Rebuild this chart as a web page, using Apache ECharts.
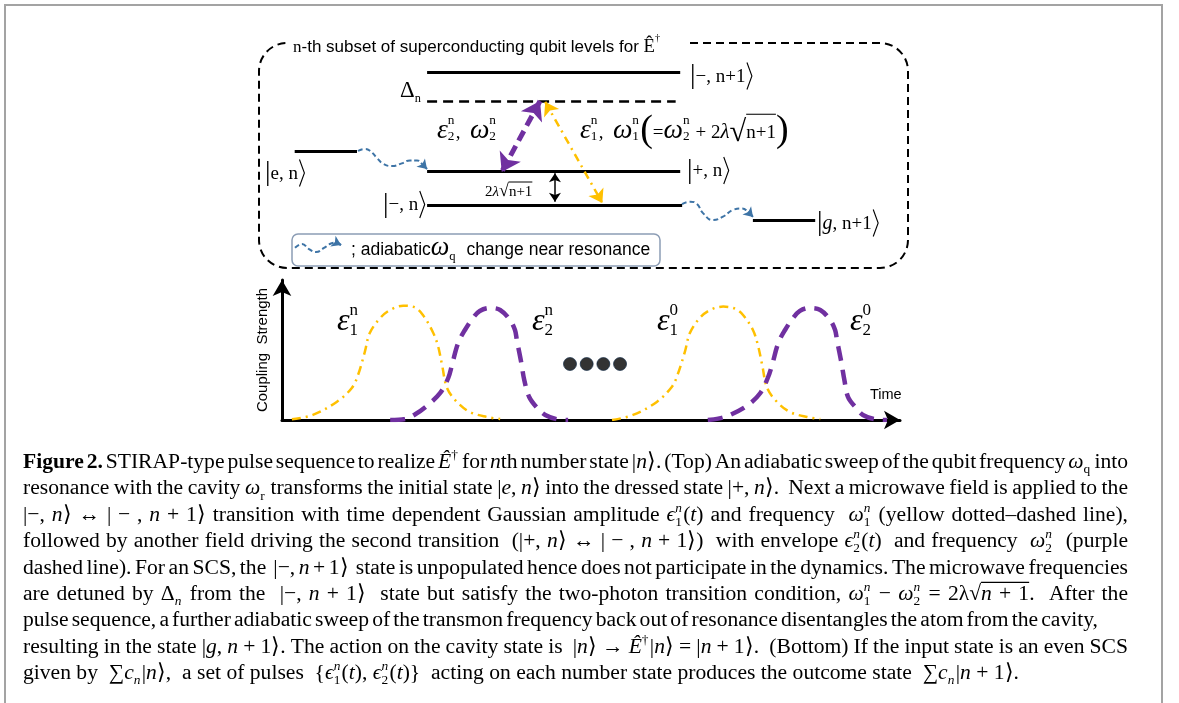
<!DOCTYPE html>
<html>
<head>
<meta charset="utf-8">
<title>STIRAP-type pulse sequence</title>
<script src="https://cdn.jsdelivr.net/npm/echarts@6/dist/echarts.min.js"></script>
<style>
html, body { margin: 0; padding: 0; background: #fff; }
#chart { width: 1179px; height: 703px; }
</style>
</head>
<body>
<div id="chart"></div>
<script>
// ---------- Pulse envelopes: [time, coupling strength] ----------
const pulseEps1N = [[1.6,0.005],[5.0,0.036],[8.9,0.131],[11.3,0.229],[12.3,0.321],[13.4,0.486],[14.2,0.621],[15.9,0.729],[17.5,0.786],[19.6,0.816],[21.5,0.804],[22.8,0.75],[24.4,0.629],[25.2,0.536],[25.9,0.393],[26.7,0.229],[28.3,0.129],[30.4,0.057],[33.2,0.021],[35.3,0.007]];
const pulseEps2N = [[17.5,0],[19.9,0.007],[21.5,0.039],[23.6,0.107],[25.6,0.193],[26.9,0.30],[27.5,0.393],[28.5,0.55],[29.6,0.643],[30.9,0.729],[32.0,0.779],[33.7,0.80],[35.3,0.786],[36.9,0.714],[37.7,0.643],[38.0,0.571],[38.7,0.414],[39.2,0.286],[40.0,0.164],[41.3,0.086],[42.6,0.036],[44.7,0.004],[46.3,0]];
const pulseEps1Zero = [[53.4,0],[56.8,0.036],[60.7,0.131],[63.1,0.238],[63.9,0.31],[65.2,0.488],[66.0,0.621],[67.6,0.729],[69.3,0.786],[71.4,0.81],[73.3,0.795],[74.6,0.75],[76.2,0.643],[77.0,0.536],[77.7,0.393],[78.5,0.229],[80.1,0.129],[82.2,0.057],[85.0,0.021],[87.1,0.007]];
const pulseEps2Zero = [[68.9,0],[70.6,0.01],[72.5,0.036],[75.4,0.107],[77.4,0.193],[78.6,0.30],[79.3,0.393],[80.3,0.55],[81.4,0.643],[82.7,0.729],[83.8,0.779],[85.3,0.80],[87.1,0.786],[88.7,0.714],[89.5,0.643],[89.8,0.571],[90.5,0.414],[91.0,0.286],[91.6,0.164],[92.9,0.086],[94.0,0.036],[96.1,0.004],[97.9,0]];
const ellipsisDots = [[46.6,0.4],[49.3,0.4],[52.0,0.4],[54.7,0.4]];

// ---------- Level scheme: position along the diagram, energy ----------
const levelStart  = [25.9, 25.9, 25.9, 5.5, 76.1];   // |-,n+1>, |+,n>, |-,n>, |e,n>, |g,n+1>
const levelEnd    = [64.9, 64.9, 65.2, 15.1, 85.7];
const levelEnergy = [87.2, 42.8, 28.0, 52.0, 21.3];
const detunedLevel = [25.9, 64.2, 73.9];              // start, end, energy
const drive2Arrow = [[43.3, 74.2], [37.4, 42.7]];     // eps2 / omega2 transition
const drive1Arrow = [[44.1, 73.8], [52.9, 28.9]];     // eps1 / omega1 transition
const splitArrow  = [[45.6, 42.1], [45.6, 29.5]];     // 2 lambda sqrt(n+1)
const sweepIn  = [[15.25,52.0],[16.33,52.9],[17.10,52.1],[18.18,48.9],[19.1,46.4],[20.5,45.3],[22.0,46.5],[23.27,47.8],[24.35,47.8],[25.27,45.8],[25.89,44.0]];
const sweepOut = [[65.18,28.4],[66.41,29.5],[67.49,28.4],[68.41,24.4],[69.95,21.3],[71.49,22.8],[73.04,25.8],[74.42,26.5],[75.35,25.0],[76.12,22.7]];
const sweepKey = [[5.55,9.0],[6.63,10.7],[7.70,8.4],[8.78,7.1],[10.02,8.9],[11.09,10.9],[11.86,11.3],[12.63,10.2]];

// ---------- Colours ----------
const YELLOW = '#FFC000';
const PURPLE = '#7030A0';
const SWEEP = '#3E74A6';

// ---------- Text layout helpers (baseline-aligned runs, scripts, overlines) ----------
const SERIF = '"Liberation Serif", "Times New Roman", serif';
const SANS = '"Liberation Sans", Arial, sans-serif';
const mctx = document.createElement('canvas').getContext('2d');
function fontOf(f, size) {
  return (f === 'i' ? 'italic ' : '') + (f === 'b' ? 'bold ' : '') + size + 'px ' + (f === 's' ? SANS : SERIF);
}
function textWidth(t, f, size) { mctx.font = fontOf(f, size); return mctx.measureText(t).width; }
const shiftCache = {};
function baseShift(f, size) {
  const k = f + size;
  if (k in shiftCache) return shiftCache[k];
  mctx.font = fontOf(f, size);
  mctx.textBaseline = 'alphabetic';
  const a = mctx.measureText('H').actualBoundingBoxAscent;
  mctx.textBaseline = 'middle';
  const m = mctx.measureText('H').actualBoundingBoxAscent;
  mctx.textBaseline = 'alphabetic';
  return (shiftCache[k] = a - m);
}
function run(t, f, size, x, yb, color) {
  return {
    type: 'text', silent: true, z: 10,
    style: {
      text: t, x: x, y: yb - baseShift(f, size) - size / 2,
      fontSize: size, fontFamily: f === 's' ? SANS : SERIF,
      fontStyle: f === 'i' ? 'italic' : 'normal',
      fontWeight: f === 'b' ? 'bold' : 'normal',
      lineHeight: size, fill: color || '#000'
    }
  };
}
function R(t, m) { return { k: 't', t: t, f: 'r', m: m || 1 }; }
function I(t, m) { return { k: 't', t: t, f: 'i', m: m || 1 }; }
function B(t) { return { k: 't', t: t, f: 'b', m: 1 }; }
function S(t, m) { return { k: 't', t: t, f: 's', m: m || 1 }; }
function SS(sub, sup, subF, supF) { return { k: 'ss', sub: sub, sup: sup, subF: subF || 'r', supF: supF || 'r' }; }
function OV(items) { return { k: 'ov', items: items }; }
function BIG(t, sc, dy) { return { k: 'big', t: t, sc: sc, dy: dy || 0 }; }
function ANG(up, dn, w) { return { k: 'ang', up: up, dn: dn, w: w }; }

function layoutLine(items, x0, yb, size, options) {
  const opt = Object.assign({ script: 0.62, supDy: -0.42, subDy: 0.24, ovDy: 0.82, target: null, color: '#000' }, options || {});
  function pass(extra, out) {
    let x = x0;
    function place(it) {
      if (it.k === 't') {
        const sz = size * it.m;
        it.t.split(/( )/).forEach(function (p) {
          if (!p) return;
          if (p === ' ') { x += textWidth(' ', it.f, sz) + extra; return; }
          if (out) out.push(run(p, it.f, sz, x, yb, opt.color));
          x += textWidth(p, it.f, sz);
        });
      } else if (it.k === 'big') {
        const sz = size * it.sc;
        if (out) out.push(run(it.t, 'r', sz, x, yb + it.dy * size, opt.color));
        x += textWidth(it.t, 'r', sz);
      } else if (it.k === 'ang') {
        const gap = size * 0.08, top = yb - it.up * size, bot = yb + it.dn * size, w = it.w * size;
        if (out) out.push({ type: 'polyline', silent: true, z: 10,
          shape: { points: [[x + gap, top], [x + gap + w, (top + bot) / 2], [x + gap, bot]] },
          style: { fill: 'none', stroke: opt.color, lineWidth: 1.1 } });
        x += w + 2 * gap;
      } else if (it.k === 'ss') {
        const s = size * opt.script;
        let w = 0;
        if (it.sup) { if (out) out.push(run(it.sup, it.supF, s, x, yb + opt.supDy * size, opt.color)); w = Math.max(w, textWidth(it.sup, it.supF, s)); }
        if (it.sub) { if (out) out.push(run(it.sub, it.subF, s, x, yb + opt.subDy * size, opt.color)); w = Math.max(w, textWidth(it.sub, it.subF, s)); }
        x += w + size * 0.06;
      } else if (it.k === 'ov') {
        const xs = x;
        it.items.forEach(place);
        if (out) out.push({ type: 'line', silent: true, z: 10,
          shape: { x1: xs, y1: yb - opt.ovDy * size, x2: x, y2: yb - opt.ovDy * size },
          style: { stroke: opt.color, lineWidth: Math.max(1, size * 0.055) } });
      }
    }
    items.forEach(place);
    return x - x0;
  }
  function spaces(list) {
    let n = 0;
    list.forEach(function (it) {
      if (it.k === 't') n += (it.t.match(/ /g) || []).length;
      else if (it.k === 'ov') n += spaces(it.items);
    });
    return n;
  }
  const natural = pass(0, null);
  const ns = spaces(items);
  const extra = (opt.target && ns) ? (opt.target - natural) / ns : 0;
  const out = [];
  pass(extra, out);
  return out;
}
function ket(items) { return [BIG('|', 1.45, 0.1)].concat(items, [ANG(1.0, 0.42, 0.26)]); }

// ---------- Caption ----------
const captionLines = [
  [B('Figure 2.'), R(' STIRAP-type pulse sequence to realize '), I('\u00CA'), SS(null, '\u2020'), R(' for '), I('n'), R('th number state |'), I('n'), R('\u27E9. (Top) An adiabatic sweep of the qubit frequency '), I('\u03C9'), SS('q', null), R(' into')],
  [R('resonance with the cavity '), I('\u03C9'), SS('r', null), R(' transforms the initial state |'), I('e'), R(', '), I('n'), R('\u27E9 into the dressed state |+, '), I('n'), R('\u27E9.  Next a microwave field is applied to the')],
  [R('|\u2212, '), I('n'), R('\u27E9 \u2194 | \u2212 , '), I('n'), R(' + 1\u27E9 transition with time dependent Gaussian amplitude '), I('\u03F5'), SS('1', 'n', 'r', 'i'), R('('), I('t'), R(') and frequency  '), I('\u03C9'), SS('1', 'n', 'r', 'i'), R(' (yellow dotted\u2013dashed line),')],
  [R('followed by another field driving the second transition  (|+, '), I('n'), R('\u27E9 \u2194 | \u2212 , '), I('n'), R(' + 1\u27E9)  with envelope '), I('\u03F5'), SS('2', 'n', 'r', 'i'), R('('), I('t'), R(')  and frequency  '), I('\u03C9'), SS('2', 'n', 'r', 'i'), R('  (purple')],
  [R('dashed line). For an SCS, the  |\u2212, '), I('n'), R(' + 1\u27E9  state is unpopulated hence does not participate in the dynamics. The microwave frequencies')],
  [R('are detuned by \u0394'), SS('n', null, 'i'), R(' from the  |\u2212, '), I('n'), R(' + 1\u27E9  state but satisfy the two-photon transition condition, '), I('\u03C9'), SS('1', 'n', 'r', 'i'), R(' \u2212 '), I('\u03C9'), SS('2', 'n', 'r', 'i'), R(' = 2\u03BB\u221A'), OV([I('n'), R(' + 1')]), R('.  After the')],
  [R('pulse sequence, a further adiabatic sweep of the transmon frequency back out of resonance disentangles the atom from the cavity,')],
  [R('resulting in the state |'), I('g'), R(', '), I('n'), R(' + 1\u27E9. The action on the cavity state is  |'), I('n'), R('\u27E9 \u2192 '), I('\u00CA'), SS(null, '\u2020'), R('|'), I('n'), R('\u27E9 = |'), I('n'), R(' + 1\u27E9.  (Bottom) If the input state is an even SCS')],
  [R('given by  \u2211'), I('c'), SS('n', null, 'i'), R('|'), I('n'), R('\u27E9,  a set of pulses  {'), I('\u03F5'), SS('1', 'n', 'r', 'i'), R('('), I('t'), R('), '), I('\u03F5'), SS('2', 'n', 'r', 'i'), R('('), I('t'), R(')}  acting on each number state produces the outcome state  \u2211'), I('c'), SS('n', null, 'i'), R('|'), I('n'), R(' + 1\u27E9.')]
];
const captionTargets = [1105, 1105, 1105, 1105, 1105, 1105, 1075, 1105, null];

// ---------- Static drawing: frame, boxes, labels ----------
const g = [];
g.push({ type: 'rect', z: 0, silent: true, shape: { x: 5, y: 5, width: 1157, height: 760 },
  style: { fill: 'none', stroke: '#A3A3A3', lineWidth: 2 } });
g.push({ type: 'rect', z: 0, silent: true, shape: { x: 259, y: 43, width: 649, height: 225, r: 28 },
  style: { fill: 'none', stroke: '#000', lineWidth: 2, lineDash: [8, 5] } });
g.push({ type: 'rect', z: 1, silent: true, shape: { x: 287, y: 34, width: 398, height: 22 },
  style: { fill: '#fff' } });
g.push({ type: 'rect', z: 1, silent: true, shape: { x: 292, y: 234, width: 368, height: 32, r: 6 },
  style: { fill: 'none', stroke: '#8C9DB5', lineWidth: 1.5 } });

// box title and key
g.push.apply(g, layoutLine([R('n'), S('-th subset of superconducting qubit levels for '), R('\u00CA', 1.1), SS(null, '\u2020')], 293, 51.7, 17, { script: 0.6, supDy: -0.62 }));
g.push.apply(g, layoutLine([S('; adiabatic'), I('\u03C9', 1.5), SS('q', null), S('  change near resonance')], 351, 255, 17.5, { script: 0.72, subDy: 0.3 }));

// level labels
const LBL = 19;
g.push.apply(g, layoutLine(ket([R('\u2212, n+1')]), 690, 81.5, LBL));
g.push.apply(g, layoutLine(ket([R('+, n')]), 687, 176, LBL));
g.push.apply(g, layoutLine(ket([R('\u2212, n')]), 383, 210, LBL));
g.push.apply(g, layoutLine(ket([R('e, n')]), 265, 178.5, LBL));
g.push.apply(g, layoutLine(ket([I('g', 1.05), R(', n+1')]), 817, 228.5, LBL));
g.push.apply(g, layoutLine([R('\u0394', 1.2), SS('n', null)], 400, 96.7, LBL, { script: 0.65, subDy: 0.28 }));
const transOpt = { script: 0.7, supDy: -0.72, subDy: 0.12, ovDy: 1.25 };
g.push.apply(g, layoutLine([I('\u03B5', 1.45), SS('2', 'n'), R(',  '), I('\u03C9', 1.45), SS('2', 'n')], 437, 138, LBL, transOpt));
g.push.apply(g, layoutLine([I('\u03B5', 1.45), SS('1', 'n'), R(',  '), I('\u03C9', 1.45), SS('1', 'n'), BIG('(', 2.0, 0.16), R('='), I('\u03C9', 1.45), SS('2', 'n'), R(' + 2'), I('\u03BB', 1.1), BIG('\u221A', 1.6, 0.15), OV([R('n+1')]), BIG(')', 2.0, 0.16)], 580, 138, LBL, transOpt));
g.push.apply(g, layoutLine([R('2'), I('\u03BB'), BIG('\u221A', 1.2, 0.05), OV([R('n+1')])], 485, 195.5, 15, { ovDy: 0.9 }));

// pulse labels
const pulseOpt = { script: 0.85, supDy: -0.75, subDy: 0.25 };
g.push.apply(g, layoutLine([I('\u03B5', 1.6), SS('1', 'n')], 337, 330, 20, pulseOpt));
g.push.apply(g, layoutLine([I('\u03B5', 1.6), SS('2', 'n')], 532, 330, 20, pulseOpt));
g.push.apply(g, layoutLine([I('\u03B5', 1.6), SS('1', '0')], 657, 330, 20, pulseOpt));
g.push.apply(g, layoutLine([I('\u03B5', 1.6), SS('2', '0')], 850, 330, 20, pulseOpt));
g.push.apply(g, layoutLine([S('Time')], 870, 399, 14.5));

// caption
captionLines.forEach(function (items, i) {
  g.push.apply(g, layoutLine(items, 23, 468 + 26.4 * i, 21.6, { target: captionTargets[i] }));
});

// ---------- Series ----------
function seg(a, b) { return { coords: [a, b] }; }
const levelSegs = levelEnergy.map(function (e, i) { return seg([levelStart[i], e], [levelEnd[i], e]); });
function sweepHead(path) { return seg(path[path.length - 2], path[path.length - 1]); }

const diagramLine = { coordinateSystem: 'cartesian2d', xAxisIndex: 1, yAxisIndex: 1, silent: true };

const series = [
  // pulse plot
  { type: 'line', xAxisIndex: 0, yAxisIndex: 0, data: pulseEps1N, smooth: 0.35, symbol: 'none', silent: true,
    lineStyle: { color: YELLOW, width: 2.5, type: [9, 5, 2, 5] } },
  { type: 'line', xAxisIndex: 0, yAxisIndex: 0, data: pulseEps1Zero, smooth: 0.35, symbol: 'none', silent: true,
    lineStyle: { color: YELLOW, width: 2.5, type: [9, 5, 2, 5] } },
  { type: 'line', xAxisIndex: 0, yAxisIndex: 0, data: pulseEps2N, smooth: 0.35, symbol: 'none', silent: true,
    lineStyle: { color: PURPLE, width: 4.5, type: [15, 9] } },
  { type: 'line', xAxisIndex: 0, yAxisIndex: 0, data: pulseEps2Zero, smooth: 0.35, symbol: 'none', silent: true,
    lineStyle: { color: PURPLE, width: 4.5, type: [15, 9] } },
  { type: 'scatter', xAxisIndex: 0, yAxisIndex: 0, data: ellipsisDots, symbolSize: 13, silent: true,
    itemStyle: { color: '#000', borderColor: '#0B2440', borderWidth: 0.8 } },

  // level scheme
  Object.assign({ type: 'lines', data: levelSegs, symbol: 'none',
    lineStyle: { color: '#000', width: 3.2, opacity: 1 } }, diagramLine),
  Object.assign({ type: 'lines', data: [seg([detunedLevel[0], detunedLevel[2]], [detunedLevel[1], detunedLevel[2]])], symbol: 'none',
    lineStyle: { color: '#000', width: 2.5, type: [10, 6], opacity: 1 } }, diagramLine),
  Object.assign({ type: 'lines', data: [seg(drive2Arrow[0], drive2Arrow[1])], symbol: ['arrow', 'arrow'], symbolSize: 18,
    lineStyle: { color: PURPLE, width: 5, type: [11, 6], opacity: 1 } }, diagramLine),
  Object.assign({ type: 'lines', data: [seg(drive1Arrow[0], drive1Arrow[1])], symbol: ['arrow', 'arrow'], symbolSize: 13,
    lineStyle: { color: YELLOW, width: 2.5, type: [8, 5, 2, 5], opacity: 1 } }, diagramLine),
  Object.assign({ type: 'lines', data: [seg(splitArrow[0], splitArrow[1])], symbol: ['arrow', 'arrow'], symbolSize: 9,
    lineStyle: { color: '#000', width: 1.5, opacity: 1 } }, diagramLine),
  { type: 'line', xAxisIndex: 1, yAxisIndex: 1, data: sweepIn, smooth: 0.5, symbol: 'none', silent: true,
    lineStyle: { color: SWEEP, width: 2, type: [5, 3] } },
  { type: 'line', xAxisIndex: 1, yAxisIndex: 1, data: sweepOut, smooth: 0.5, symbol: 'none', silent: true,
    lineStyle: { color: SWEEP, width: 2, type: [5, 3] } },
  { type: 'line', xAxisIndex: 1, yAxisIndex: 1, data: sweepKey, smooth: 0.5, symbol: 'none', silent: true,
    lineStyle: { color: SWEEP, width: 2, type: [5, 3] } },
  Object.assign({ type: 'lines', data: [sweepHead(sweepIn), sweepHead(sweepOut), sweepHead(sweepKey)],
    symbol: ['none', 'arrow'], symbolSize: 9,
    lineStyle: { color: SWEEP, width: 2, opacity: 1 } }, diagramLine)
];

const axisArrow = { show: true, onZero: true, symbol: ['none', 'arrow'], symbolSize: [14, 16],
  lineStyle: { color: '#000', width: 3 } };

const chart = echarts.init(document.getElementById('chart'), null, { renderer: 'canvas' });
chart.setOption({
  animation: false,
  backgroundColor: '#fff',
  grid: [
    { left: 282, top: 280, width: 618, height: 140 },
    { left: 259, top: 43, width: 649, height: 225 }
  ],
  xAxis: [
    { gridIndex: 0, type: 'value', min: 0, max: 100, axisLine: axisArrow,
      axisTick: { show: false }, axisLabel: { show: false }, splitLine: { show: false } },
    { gridIndex: 1, type: 'value', min: 0, max: 100, show: false }
  ],
  yAxis: [
    { gridIndex: 0, type: 'value', min: 0, max: 1, axisLine: axisArrow,
      axisTick: { show: false }, axisLabel: { show: false }, splitLine: { show: false },
      name: 'Coupling  Strength', nameLocation: 'middle', nameGap: 12, nameRotate: 90,
      nameTextStyle: { fontFamily: SANS, fontSize: 15, color: '#000' } },
    { gridIndex: 1, type: 'value', min: 0, max: 100, show: false }
  ],
  series: series,
  graphic: { elements: g }
});
</script>
</body>
</html>
